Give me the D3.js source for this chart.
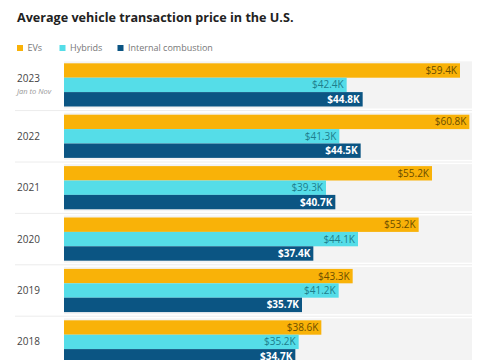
<!DOCTYPE html>
<html><head><meta charset="utf-8">
<script src="https://cdn.jsdelivr.net/npm/d3@7"></script>
<style>body{margin:0;background:#fff;} text{font-family:"Open Sans",sans-serif;}</style>
</head><body><svg id="c" width="485" height="360"></svg>
<script>
const years = ["2023","2022","2021","2020","2019","2018"];
const seriesNames = ["EVs","Hybrids","Internal combustion"];
const evs = [59.4, 60.8, 55.2, 53.2, 43.3, 38.6];
const hybrids = [42.4, 41.3, 39.3, 44.1, 41.2, 35.2];
const ice = [44.8, 44.5, 40.7, 37.4, 35.7, 34.7];
const values = [evs, hybrids, ice];
const colors = ["#F9B208","#55DDE8","#0B5583"];
const labelColors = ["#6b4e00","#1e7d8c","#ffffff"];

const svg = d3.select("#c");
svg.append("text").attr("x",17).attr("y",22).attr("font-size",12.6).attr("font-weight",700)
  .attr("fill","#222").text("Average vehicle transaction price in the U.S.");

const legX = [17,59.5,117.5];
seriesNames.forEach((n,i)=>{
  svg.append("rect").attr("x",legX[i]).attr("y",45).attr("width",6).attr("height",6).attr("fill",colors[i]);
  svg.append("text").attr("x",legX[i]+10.5).attr("y",51).attr("font-size",9).attr("fill","#777").text(n);
});

const x = d3.scaleLinear().domain([0,61.2]).range([64,472]);
const y = d3.scaleBand().domain(years).range([59.2,367.6]).paddingInner(0.16).paddingOuter(0.08);
const ys = d3.scaleBand().domain(d3.range(3)).range([0,y.bandwidth()]);

const g = svg.append("g");
years.forEach((yr,j)=>{
  const top = y(yr);
  g.append("rect").attr("x",x(0)).attr("y",top-2).attr("width",x(61.2)-x(0)).attr("height",y.bandwidth()+4).attr("fill","#f3f3f3");
  if(j>0){
    const sy = top - (y.step()-y.bandwidth())/2;
    g.append("line").attr("x1",15).attr("x2",472).attr("y1",sy).attr("y2",sy).attr("stroke","#ececec").attr("stroke-width",1);
  }
  values.forEach((arr,i)=>{
    const v = arr[j];
    g.append("rect").attr("x",x(0)).attr("y",top+ys(i)).attr("width",x(v)-x(0)).attr("height",ys.bandwidth()).attr("fill",colors[i]);
    g.append("text").attr("x",x(v)-3).attr("y",top+ys(i)+ys.bandwidth()/2).attr("dy","0.35em")
      .attr("text-anchor","end").attr("font-size",10).attr("font-weight",i===2?700:500)
      .attr("fill",labelColors[i]).text("$"+d3.format(".1f")(v)+"K");
  });
  const cy = top + y.bandwidth()/2;
  if(j===0){
    g.append("text").attr("x",17).attr("y",cy-3).attr("font-size",10).attr("fill","#444").text(yr);
    g.append("text").attr("x",17).attr("y",cy+9).attr("font-size",7.5).attr("font-style","italic").attr("fill","#999").text("Jan to Nov");
  } else {
    g.append("text").attr("x",17).attr("y",cy).attr("dy","0.35em").attr("font-size",10).attr("fill","#444").text(yr);
  }
});
</script></body></html>
